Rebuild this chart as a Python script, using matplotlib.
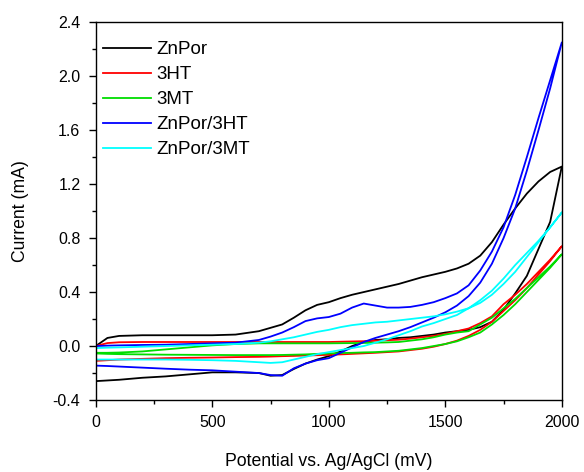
import numpy as np
import matplotlib
matplotlib.use('Agg')
import matplotlib.pyplot as plt
from matplotlib.ticker import MultipleLocator

plt.rcParams['font.family'] = ['Liberation Sans', 'DejaVu Sans']

# potential grid (mV), shared by forward and reverse scans
v = [0, 50, 100, 200, 300, 400, 500, 600, 700, 750, 800, 850, 900, 950, 1000,
     1050, 1100, 1150, 1200, 1250, 1300, 1350, 1400, 1450, 1500, 1550, 1600,
     1650, 1700, 1750, 1800, 1850, 1900, 1950, 2000]

# current (mA)
znpor_fwd = [0.0, 0.06, 0.075, 0.08, 0.08, 0.08, 0.08, 0.085, 0.11, 0.135, 0.16, 0.21,
             0.265, 0.305, 0.325, 0.355, 0.38, 0.40, 0.42, 0.44, 0.46, 0.485, 0.51, 0.53,
             0.55, 0.575, 0.61, 0.67, 0.77, 0.9, 1.02, 1.13, 1.22, 1.29, 1.33]
znpor_rev = [-0.26, -0.255, -0.25, -0.235, -0.225, -0.21, -0.195, -0.195, -0.2, -0.22,
             -0.215, -0.17, -0.13, -0.1, -0.075, -0.04, 0.0, 0.03, 0.045, 0.05, 0.06,
             0.065, 0.075, 0.085, 0.1, 0.11, 0.12, 0.14, 0.18, 0.27, 0.39, 0.52, 0.72,
             0.92, 1.33]

ht_fwd = [0.0, 0.022, 0.028, 0.03, 0.03, 0.03, 0.03, 0.03, 0.03, 0.03, 0.03, 0.03,
          0.03, 0.03, 0.03, 0.032, 0.034, 0.036, 0.04, 0.043, 0.047, 0.055, 0.065,
          0.075, 0.09, 0.11, 0.13, 0.17, 0.22, 0.31, 0.38, 0.46, 0.55, 0.64, 0.74]
ht_rev = [-0.11, -0.105, -0.1, -0.095, -0.09, -0.087, -0.085, -0.082, -0.08, -0.078,
          -0.075, -0.073, -0.07, -0.068, -0.065, -0.062, -0.058, -0.054, -0.05, -0.045,
          -0.04, -0.03, -0.02, -0.005, 0.015, 0.04, 0.075, 0.12, 0.18, 0.26, 0.34,
          0.43, 0.53, 0.63, 0.74]

mt_fwd = [-0.05, -0.05, -0.048, -0.04, -0.025, -0.01, 0.005, 0.015, 0.02, 0.02, 0.02,
          0.02, 0.02, 0.02, 0.02, 0.021, 0.022, 0.023, 0.025, 0.027, 0.03, 0.04, 0.05,
          0.065, 0.085, 0.1, 0.11, 0.16, 0.21, 0.28, 0.35, 0.43, 0.51, 0.59, 0.68]
mt_rev = [-0.055, -0.058, -0.06, -0.062, -0.064, -0.065, -0.066, -0.067, -0.067, -0.067,
          -0.066, -0.064, -0.062, -0.058, -0.055, -0.052, -0.05, -0.047, -0.045, -0.04,
          -0.035, -0.025, -0.015, 0.0, 0.015, 0.035, 0.065, 0.1, 0.16, 0.23, 0.31,
          0.4, 0.49, 0.58, 0.68]

zp3ht_fwd = [0.0, 0.003, 0.005, 0.008, 0.01, 0.015, 0.02, 0.025, 0.045, 0.07, 0.1, 0.14,
             0.185, 0.205, 0.215, 0.24, 0.285, 0.315, 0.3, 0.285, 0.285, 0.29, 0.305,
             0.325, 0.355, 0.39, 0.45, 0.56, 0.7, 0.88, 1.12, 1.4, 1.69, 1.97, 2.25]
zp3ht_rev = [-0.145, -0.148, -0.152, -0.16, -0.168, -0.175, -0.18, -0.19, -0.2, -0.215,
             -0.22, -0.165, -0.13, -0.105, -0.09, -0.05, -0.01, 0.03, 0.06, 0.085, 0.11,
             0.14, 0.175, 0.21, 0.25, 0.3, 0.37, 0.47, 0.61, 0.8, 1.02, 1.3, 1.6,
             1.91, 2.25]

zp3mt_fwd = [-0.015, -0.012, -0.01, -0.005, 0.0, 0.005, 0.01, 0.015, 0.025, 0.035, 0.05,
             0.065, 0.085, 0.105, 0.12, 0.14, 0.155, 0.165, 0.175, 0.18, 0.19, 0.2, 0.21,
             0.22, 0.235, 0.255, 0.28, 0.32, 0.38, 0.46, 0.55, 0.66, 0.77, 0.88, 0.99]
zp3mt_rev = [-0.1, -0.1, -0.1, -0.1, -0.1, -0.102, -0.105, -0.11, -0.12, -0.125, -0.12,
             -0.1, -0.08, -0.06, -0.045, -0.03, -0.015, 0.0, 0.025, 0.05, 0.08, 0.11,
             0.145, 0.17, 0.2, 0.23, 0.28, 0.34, 0.41, 0.5, 0.6, 0.69, 0.78, 0.88, 0.99]

labels = ['ZnPor', '3HT', '3MT', 'ZnPor/3HT', 'ZnPor/3MT']
colors = ['black', '#ff0000', '#00dd00', '#0000ff', '#00ffff']
fwd = [znpor_fwd, ht_fwd, mt_fwd, zp3ht_fwd, zp3mt_fwd]
rev = [znpor_rev, ht_rev, mt_rev, zp3ht_rev, zp3mt_rev]

fig = plt.figure(figsize=(5.84, 4.72), dpi=100)
ax = fig.add_axes([0.164, 0.1525, 0.798, 0.8005])

for lab, c, f, r in zip(labels, colors, fwd, rev):
    # closed CV loop: forward scan out, reverse scan back
    x = np.concatenate([v, v[::-1], v[:1]])
    y = np.concatenate([f, r[::-1], f[:1]])
    ax.plot(x, y, color=c, lw=1.3, label=lab)

ax.set_xlim(0, 2000)
ax.set_ylim(-0.4, 2.4)
ax.xaxis.set_major_locator(MultipleLocator(500))
ax.xaxis.set_minor_locator(MultipleLocator(250))
ax.yaxis.set_major_locator(MultipleLocator(0.4))
ax.yaxis.set_minor_locator(MultipleLocator(0.2))
ax.yaxis.set_major_formatter(plt.FormatStrFormatter('%.1f'))
ax.tick_params(which='major', direction='out', length=5, width=1, labelsize=11.5, pad=6)
ax.tick_params(which='minor', direction='out', length=3, width=1)
for s in ax.spines.values():
    s.set_linewidth(1)

ax.set_xlabel('Potential vs. Ag/AgCl (mV)', fontsize=12.7, labelpad=16)
ax.set_ylabel('Current (mA)', fontsize=12.7, labelpad=17)

ax.legend(loc='upper left', frameon=False, fontsize=13.5, handlelength=2.55,
          handletextpad=0.27, labelspacing=0.42, borderaxespad=0.0,
          bbox_to_anchor=(0.0, 0.97))

plt.savefig('out.png', dpi=100)
